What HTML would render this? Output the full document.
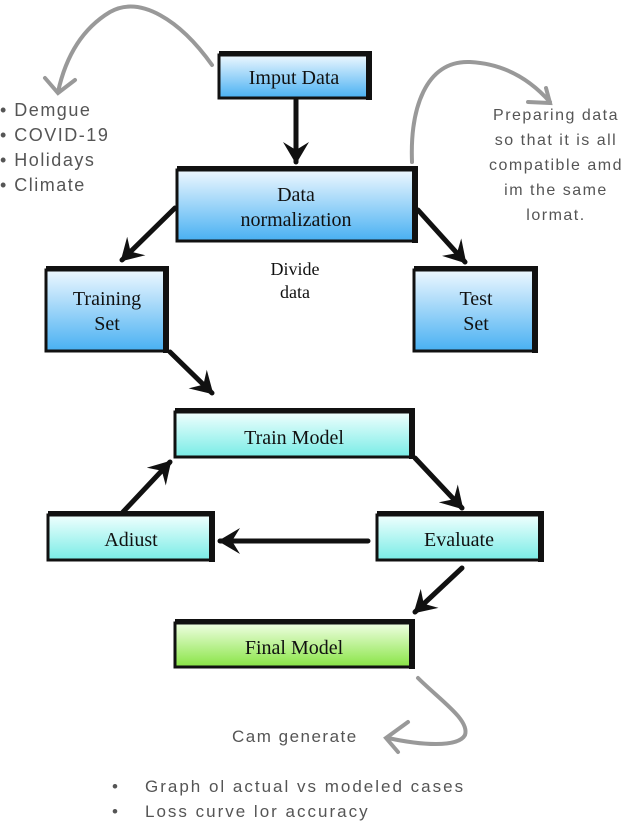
<!DOCTYPE html>
<html><head><meta charset="utf-8"><style>
html,body{margin:0;padding:0;background:#fff;width:633px;height:828px;overflow:hidden}
svg{display:block}
.b{font-family:"Liberation Serif",serif;font-size:20px;fill:#111;text-anchor:middle}
.h{font-family:"Liberation Sans",sans-serif;font-size:17px;fill:#555;letter-spacing:1.5px}
</style></head><body>
<svg width="633" height="828" viewBox="0 0 633 828" xmlns="http://www.w3.org/2000/svg">
<defs>
<linearGradient id="gb" x1="0" y1="0" x2="0" y2="1"><stop offset="0" stop-color="#eef8ff"/><stop offset="1" stop-color="#48b0f2"/></linearGradient>
<linearGradient id="gc" x1="0" y1="0" x2="0" y2="1"><stop offset="0" stop-color="#f0fffe"/><stop offset="1" stop-color="#78ece6"/></linearGradient>
<linearGradient id="gg" x1="0" y1="0" x2="0" y2="1"><stop offset="0" stop-color="#f0ffe4"/><stop offset="1" stop-color="#88e444"/></linearGradient>
<marker id="ah" markerWidth="24" markerHeight="26" refX="20" refY="13" orient="auto" markerUnits="userSpaceOnUse"><path d="M0,0 L22,13 L0,26 L8,13 Z" fill="#111"/></marker>
</defs>
<g fill="none" stroke="#999" stroke-width="4" stroke-linecap="round">
<path d="M212,65 C180,20 140,-5 110,12 C80,30 65,60 58,92"/>
<path d="M45,78 L58,93 L75,80"/>
<path d="M412,162 C410,110 425,60 470,62 C510,64 535,85 550,102"/>
<path d="M528,102 L550,103 L546,88"/>
<path d="M418,678 C440,700 470,720 465,735 C458,748 420,745 388,738"/>
<path d="M408,722 L386,738 L398,752"/>
</g>
<g stroke="#111" stroke-width="5" fill="none" stroke-linecap="round" marker-end="url(#ah)">
<path d="M296,100 L296,162"/>
<path d="M175,208 L122,260"/>
<path d="M418,210 L465,262"/>
<path d="M170,352 L212,393"/>
<path d="M415,458 L462,508"/>
<path d="M123,512 L170,462"/>
<path d="M368,541 L220,541"/>
<path d="M462,568 L415,612"/>
</g>
<g stroke="#111" stroke-width="3">
<rect x="219" y="55" width="151" height="43" fill="url(#gb)"/>
<rect x="177" y="170" width="239" height="71" fill="url(#gb)"/>
<rect x="46" y="270" width="121" height="81" fill="url(#gb)"/>
<rect x="414" y="270" width="122" height="81" fill="url(#gb)"/>
<rect x="175" y="412" width="238" height="45" fill="url(#gc)"/>
<rect x="48" y="515" width="165" height="45" fill="url(#gc)"/>
<rect x="377" y="515" width="165" height="45" fill="url(#gc)"/>
<rect x="175" y="623" width="238" height="44" fill="url(#gg)"/>
</g>
<g fill="#111">
<rect x="219" y="51" width="153" height="5"/><rect x="366" y="51" width="6" height="49"/>
<rect x="177" y="166" width="241" height="5"/><rect x="412" y="166" width="6" height="77"/>
<rect x="46" y="266" width="123" height="5"/><rect x="163" y="266" width="6" height="87"/>
<rect x="414" y="266" width="124" height="5"/><rect x="532" y="266" width="6" height="87"/>
<rect x="175" y="408" width="240" height="5"/><rect x="409" y="408" width="6" height="51"/>
<rect x="48" y="511" width="167" height="5"/><rect x="209" y="511" width="6" height="51"/>
<rect x="377" y="511" width="167" height="5"/><rect x="538" y="511" width="6" height="51"/>
<rect x="175" y="619" width="240" height="5"/><rect x="409" y="619" width="6" height="50"/>
</g>
<text class="b" x="294" y="84">Imput Data</text>
<text class="b" x="296" y="201">Data</text>
<text class="b" x="296" y="226">normalization</text>
<text class="b" x="107" y="305">Training</text>
<text class="b" x="107" y="330">Set</text>
<text class="b" x="476" y="305">Test</text>
<text class="b" x="476" y="330">Set</text>
<text class="b" x="294" y="444">Train Model</text>
<text class="b" x="131" y="546">Adiust</text>
<text class="b" x="459" y="546">Evaluate</text>
<text class="b" x="294" y="654">Final Model</text>
<text class="b" x="295" y="275" style="font-size:18px">Divide</text>
<text class="b" x="295" y="298" style="font-size:18px">data</text>
<g class="h" style="font-size:18px">
<text x="0" y="116">•  Demgue</text>
<text x="0" y="141">•  COVID-19</text>
<text x="0" y="166">•  Holidays</text>
<text x="0" y="191">•  Climate</text>
</g>
<g class="h" text-anchor="middle" style="font-size:16px">
<text x="556" y="120">Preparing data</text>
<text x="556" y="145">so that it is all</text>
<text x="556" y="170">compatible amd</text>
<text x="556" y="195">im the same</text>
<text x="556" y="220">lormat.</text>
</g>
<text class="h" x="232" y="742">Cam generate</text>
<g class="h" style="font-size:17px;letter-spacing:2px">
<text x="112" y="792">•</text><text x="145" y="792">Graph ol actual vs modeled cases</text>
<text x="112" y="817">•</text><text x="145" y="817">Loss curve lor accuracy</text>
</g>
</svg>
</body></html>
